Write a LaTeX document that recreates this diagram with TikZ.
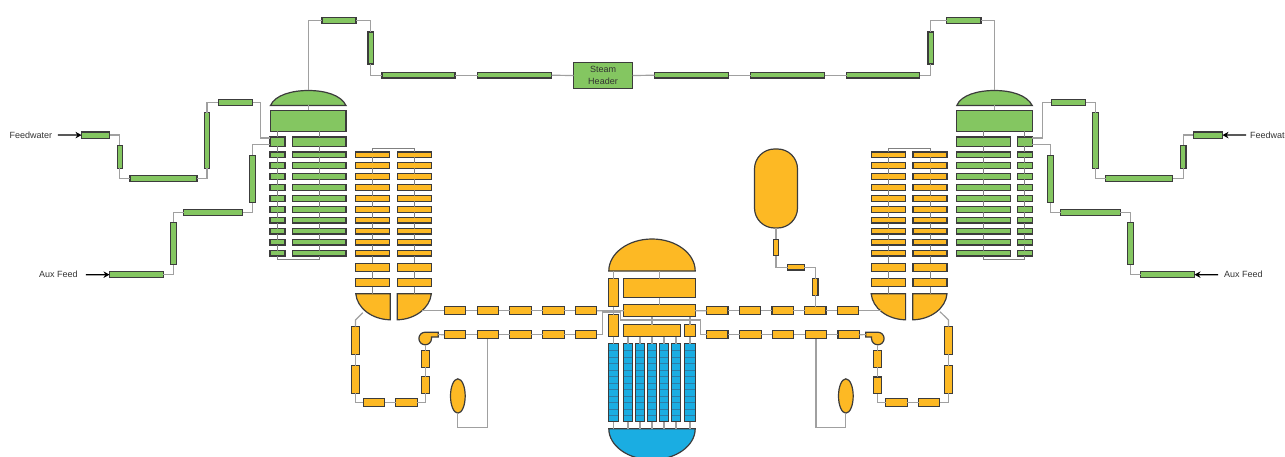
\documentclass[tikz,border=0pt]{standalone}
\usepackage{fontspec}
\setmainfont{Liberation Sans}
\usetikzlibrary{shapes.geometric,arrows.meta}
\definecolor{sggreen}{HTML}{84C661}
\definecolor{rcsorange}{HTML}{FDB924}
\definecolor{coreblue}{HTML}{1AADE2}
\definecolor{edgegrey}{HTML}{3C3C3C}
\definecolor{pipegrey}{HTML}{A0A0A0}
\definecolor{tubegrey}{HTML}{808080}
\definecolor{gridblue}{HTML}{2B7EA8}
\tikzset{
  sz/.style 2 args={minimum width=#1,minimum height=#2},
  part/.style={draw=edgegrey,line width=1.2pt,inner sep=0pt,outer sep=0pt},
  gbox/.style={part,fill=sggreen},
  obox/.style={part,fill=rcsorange},
  rowa/.style={gbox,sz={15}{5.4}},
  rowb/.style={gbox,sz={53.5}{5.4}},
  rowo/.style={obox,sz={34}{5.4}},
  rowt/.style={obox,sz={34}{8}},
  leg/.style={obox,sz={21.4}{8.3}},
  fuel/.style={part,fill=coreblue,path picture={
    \foreach \k in {1,...,11}
      \draw[gridblue,line width=.6pt] ([yshift=-\k*6.5pt]path picture bounding box.north west) -- ([yshift=-\k*6.5pt]path picture bounding box.north east);
  }},
  pipe/.style={draw=pipegrey,line width=1.2pt},
  tube/.style={draw=tubegrey,line width=.8pt},
  flow/.style={black,line width=1.3pt,-{Stealth[length=6pt,width=6.5pt]}},
  lab/.style={font=\fontsize{9}{11}\selectfont,inner sep=0pt,anchor=west,text=black!80}
}
\begin{document}
\begin{tikzpicture}[x=1pt,y=1pt]
\useasboundingbox (0,0) rectangle (1285,-457);
% steam line
\node[gbox,sz={34}{5.7}] (sl1) at (339,-20.75) {};
\node[gbox,sz={5.7}{32}] (sl2) at (370.75,-48) {};
\node[gbox,sz={73}{5.5}] (sl3) at (418.5,-75.25) {};
\node[gbox,sz={74}{5.5}] (sl4) at (514.5,-75.25) {};
\node[gbox,sz={59}{26},font=\fontsize{9}{12}\selectfont,align=center,text=black!80] (hdr) at (603,-75.5) {Steam\\Header};
\node[gbox,sz={74}{5.5}] (sr1) at (691.5,-75.25) {};
\node[gbox,sz={74}{5.5}] (sr2) at (787.5,-75.25) {};
\node[gbox,sz={73}{5.5}] (sr3) at (883,-75.25) {};
\node[gbox,sz={5.7}{32}] (sr4) at (930.75,-48) {};
\node[gbox,sz={34.5}{5.7}] (sr5) at (963.75,-20.75) {};
% left steam generator
\draw[part,fill=sggreen] (270.5,-105.5) .. controls (275,-95) and (292,-90.5) .. (308.3,-90.5) .. controls (325,-90.5) and (341,-95) .. (346,-105.5) -- cycle;
\coordinate (ldomet) at (308.3,-90.5);
\coordinate (ldomeb) at (308.3,-105.5);
\node[gbox,sz={75.5}{21}] (lshell) at (308.3,-121) {};
\node[gbox,sz={15}{9.5}] (lsa0) at (277.5,-141.75) {};
\node[gbox,sz={53.5}{9.5}] (lsb0) at (319.2,-141.75) {};
\node[rowa] (lsa1) at (277.5,-154.7) {};
\node[rowa] (lsa2) at (277.5,-165.6) {};
\node[rowa] (lsa3) at (277.5,-176.6) {};
\node[rowa] (lsa4) at (277.5,-187.6) {};
\node[rowa] (lsa5) at (277.5,-198.5) {};
\node[rowa] (lsa6) at (277.5,-209.5) {};
\node[rowa] (lsa7) at (277.5,-220.4) {};
\node[rowa] (lsa8) at (277.5,-231.4) {};
\node[rowa] (lsa9) at (277.5,-242.3) {};
\node[rowa] (lsa10) at (277.5,-253.3) {};
\node[rowb] (lsb1) at (319.2,-154.7) {};
\node[rowb] (lsb2) at (319.2,-165.6) {};
\node[rowb] (lsb3) at (319.2,-176.6) {};
\node[rowb] (lsb4) at (319.2,-187.6) {};
\node[rowb] (lsb5) at (319.2,-198.5) {};
\node[rowb] (lsb6) at (319.2,-209.5) {};
\node[rowb] (lsb7) at (319.2,-220.4) {};
\node[rowb] (lsb8) at (319.2,-231.4) {};
\node[rowb] (lsb9) at (319.2,-242.3) {};
\node[rowb] (lsb10) at (319.2,-253.3) {};
% right steam generator
\draw[part,fill=sggreen] (956.8,-105.5) .. controls (961,-95) and (978,-90.5) .. (994.4,-90.5) .. controls (1011,-90.5) and (1027,-95) .. (1032.2,-105.5) -- cycle;
\coordinate (rdomet) at (994.4,-90.5);
\coordinate (rdomeb) at (994.4,-105.5);
\node[gbox,sz={75.5}{21}] (rshell) at (994.4,-121) {};
\node[gbox,sz={53.5}{9.5}] (rsb0) at (983.5,-141.75) {};
\node[gbox,sz={15}{9.5}] (rsa0) at (1024.8,-141.75) {};
\node[rowb] (rsb1) at (983.5,-154.7) {};
\node[rowb] (rsb2) at (983.5,-165.6) {};
\node[rowb] (rsb3) at (983.5,-176.6) {};
\node[rowb] (rsb4) at (983.5,-187.6) {};
\node[rowb] (rsb5) at (983.5,-198.5) {};
\node[rowb] (rsb6) at (983.5,-209.5) {};
\node[rowb] (rsb7) at (983.5,-220.4) {};
\node[rowb] (rsb8) at (983.5,-231.4) {};
\node[rowb] (rsb9) at (983.5,-242.3) {};
\node[rowb] (rsb10) at (983.5,-253.3) {};
\node[rowa] (rsa1) at (1024.8,-154.7) {};
\node[rowa] (rsa2) at (1024.8,-165.6) {};
\node[rowa] (rsa3) at (1024.8,-176.6) {};
\node[rowa] (rsa4) at (1024.8,-187.6) {};
\node[rowa] (rsa5) at (1024.8,-198.5) {};
\node[rowa] (rsa6) at (1024.8,-209.5) {};
\node[rowa] (rsa7) at (1024.8,-220.4) {};
\node[rowa] (rsa8) at (1024.8,-231.4) {};
\node[rowa] (rsa9) at (1024.8,-242.3) {};
\node[rowa] (rsa10) at (1024.8,-253.3) {};
% left tube bank
\node[rowo] (lha1) at (372.8,-154.7) {};
\node[rowo] (lha2) at (372.8,-165.6) {};
\node[rowo] (lha3) at (372.8,-176.6) {};
\node[rowo] (lha4) at (372.8,-187.6) {};
\node[rowo] (lha5) at (372.8,-198.5) {};
\node[rowo] (lha6) at (372.8,-209.5) {};
\node[rowo] (lha7) at (372.8,-220.4) {};
\node[rowo] (lha8) at (372.8,-231.4) {};
\node[rowo] (lha9) at (372.8,-242.3) {};
\node[rowo] (lha10) at (372.8,-253.3) {};
\node[rowt] (lha11) at (372.8,-267.2) {};
\node[rowt] (lha12) at (372.8,-282.5) {};
\node[rowo] (lhb1) at (414.3,-154.7) {};
\node[rowo] (lhb2) at (414.3,-165.6) {};
\node[rowo] (lhb3) at (414.3,-176.6) {};
\node[rowo] (lhb4) at (414.3,-187.6) {};
\node[rowo] (lhb5) at (414.3,-198.5) {};
\node[rowo] (lhb6) at (414.3,-209.5) {};
\node[rowo] (lhb7) at (414.3,-220.4) {};
\node[rowo] (lhb8) at (414.3,-231.4) {};
\node[rowo] (lhb9) at (414.3,-242.3) {};
\node[rowo] (lhb10) at (414.3,-253.3) {};
\node[rowt] (lhb11) at (414.3,-267.2) {};
\node[rowt] (lhb12) at (414.3,-282.5) {};
\draw[part,fill=rcsorange] (355.8,-293.8) -- (390.3,-293.8) -- (390.3,-319.8) .. controls (372,-319.5) and (357,-308) .. (355.8,-293.8) -- cycle;
\draw[part,fill=rcsorange] (397.2,-293.8) -- (431.3,-293.8) .. controls (430,-308) and (415,-319.5) .. (397.2,-319.8) -- cycle;
\coordinate (lpla) at (372.8,-293.8);
\coordinate (lplb) at (414.3,-293.8);
\coordinate (lplc) at (362.7,-312.7);
\coordinate (lpld) at (355.5,-320);
\coordinate (lple) at (422,-310.7);
% right tube bank
\node[rowo] (rha1) at (888.3,-154.7) {};
\node[rowo] (rha2) at (888.3,-165.6) {};
\node[rowo] (rha3) at (888.3,-176.6) {};
\node[rowo] (rha4) at (888.3,-187.6) {};
\node[rowo] (rha5) at (888.3,-198.5) {};
\node[rowo] (rha6) at (888.3,-209.5) {};
\node[rowo] (rha7) at (888.3,-220.4) {};
\node[rowo] (rha8) at (888.3,-231.4) {};
\node[rowo] (rha9) at (888.3,-242.3) {};
\node[rowo] (rha10) at (888.3,-253.3) {};
\node[rowt] (rha11) at (888.3,-267.2) {};
\node[rowt] (rha12) at (888.3,-282.5) {};
\node[rowo] (rhb1) at (930,-154.7) {};
\node[rowo] (rhb2) at (930,-165.6) {};
\node[rowo] (rhb3) at (930,-176.6) {};
\node[rowo] (rhb4) at (930,-187.6) {};
\node[rowo] (rhb5) at (930,-198.5) {};
\node[rowo] (rhb6) at (930,-209.5) {};
\node[rowo] (rhb7) at (930,-220.4) {};
\node[rowo] (rhb8) at (930,-231.4) {};
\node[rowo] (rhb9) at (930,-242.3) {};
\node[rowo] (rhb10) at (930,-253.3) {};
\node[rowt] (rhb11) at (930,-267.2) {};
\node[rowt] (rhb12) at (930,-282.5) {};
\draw[part,fill=rcsorange] (871.2,-293.8) -- (905.6,-293.8) -- (905.6,-319.8) .. controls (887,-319.5) and (872.5,-308) .. (871.2,-293.8) -- cycle;
\draw[part,fill=rcsorange] (912.8,-293.8) -- (947,-293.8) .. controls (945.8,-308) and (931,-319.5) .. (912.8,-319.8) -- cycle;
\coordinate (rpla) at (888.3,-293.8);
\coordinate (rplb) at (930,-293.8);
\coordinate (rplc) at (940,-311.7);
\coordinate (rpld) at (948.5,-320);
\coordinate (rple) at (880.7,-310.7);
% feed lines
\node[lab] (fwl) at (9.5,-135) {Feedwater};
\node[gbox,sz={28}{6.2}] (lf1) at (95.5,-135.1) {};
\node[gbox,sz={5.5}{23}] (lf2) at (119.85,-157) {};
\node[gbox,sz={67}{5.7}] (lf3) at (163.4,-178.65) {};
\node[gbox,sz={5.7}{55.7}] (lf4) at (207,-140.65) {};
\node[gbox,sz={34.3}{5.7}] (lf5) at (235.35,-102.35) {};
\node[lab] (axl) at (39,-274.7) {Aux Feed};
\node[gbox,sz={53.7}{5.7}] (la1) at (136.35,-274.65) {};
\node[gbox,sz={5.7}{42}] (la2) at (173.35,-243.5) {};
\node[gbox,sz={59.3}{5.7}] (la3) at (213.15,-212.5) {};
\node[gbox,sz={5.7}{47.3}] (la4) at (252.65,-179.15) {};
\node[lab] (fwr) at (1250,-135) {Feedwater};
\node[gbox,sz={29.3}{6.2}] (rf1) at (1207.85,-135.1) {};
\node[gbox,sz={5.7}{23}] (rf2) at (1183.2,-157) {};
\node[gbox,sz={67}{5.7}] (rf3) at (1139.3,-178.65) {};
\node[gbox,sz={6}{55.7}] (rf4) at (1095.8,-140.65) {};
\node[gbox,sz={34.6}{5.7}] (rf5) at (1068.5,-102.35) {};
\node[lab] (axr) at (1224,-274.7) {Aux Feed};
\node[gbox,sz={54}{5.7}] (ra1) at (1167.5,-274.65) {};
\node[gbox,sz={5.7}{42}] (ra2) at (1130.35,-243.5) {};
\node[gbox,sz={59.4}{5.7}] (ra3) at (1090.5,-212.5) {};
\node[gbox,sz={5.7}{47.3}] (ra4) at (1050.65,-179.15) {};
% reactor
\draw[part,fill=rcsorange] (608.8,-271) arc[start angle=180,end angle=0,x radius=43.2,y radius=32] -- cycle;
\coordinate (domea) at (613.65,-271);
\coordinate (domeb) at (659.5,-271);
\node[obox,sz={10.3}{28.3}] (dcu) at (613.65,-292.65) {};
\node[obox,sz={10.3}{21.7}] (dcl) at (613.65,-325.65) {};
\node[obox,sz={71.4}{19}] (rup) at (659.5,-288) {};
\node[obox,sz={71.4}{12.3}] (rmid) at (659.5,-310.65) {};
\node[obox,sz={56.4}{12}] (rlo) at (652,-330.5) {};
\node[obox,sz={10.4}{12}] (rsm) at (690,-330.5) {};
\node[fuel,sz={10.3}{78}] (fu1) at (613.65,-382.8) {};
\node[fuel,sz={8.4}{78}] (fu2) at (628,-382.8) {};
\node[fuel,sz={8.4}{78}] (fu3) at (640,-382.8) {};
\node[fuel,sz={8.4}{78}] (fu4) at (652,-382.8) {};
\node[fuel,sz={8.4}{78}] (fu5) at (664,-382.8) {};
\node[fuel,sz={8.4}{78}] (fu6) at (676,-382.8) {};
\node[fuel,sz={10.4}{78}] (fu7) at (690,-382.8) {};
\draw[part,fill=coreblue] (608.8,-428.7) -- (695.2,-428.7) arc[start angle=0,end angle=-180,x radius=43.2,y radius=31] -- cycle;
\coordinate (pln) at (652,-428.7);
% pressurizer
\node[obox,rounded corners=20pt,sz={43}{79}] (prz) at (776,-188.5) {};
\node[obox,sz={5.5}{16.7}] (pz1) at (776,-247.5) {};
\node[obox,sz={16.7}{5.5}] (pz2) at (795.85,-267.15) {};
\node[obox,sz={5.5}{16.7}] (pz3) at (815.3,-286.85) {};
% left loop
\node[leg] (hl1) at (454.85,-310.7) {};
\node[leg] (hl2) at (487.85,-310.7) {};
\node[leg] (hl3) at (520.5,-310.7) {};
\node[leg] (hl4) at (553.5,-310.7) {};
\node[leg] (hl5) at (586.15,-310.7) {};
\node[leg] (cl1) at (454.85,-334.7) {};
\node[leg] (cl2) at (487.85,-334.7) {};
\node[leg] (cl3) at (520.5,-334.7) {};
\node[leg] (cl4) at (553.5,-334.7) {};
\node[leg] (cl5) at (586.15,-334.7) {};
\node[obox,sz={8}{27.7}] (lc1) at (355.5,-340.35) {};
\node[obox,sz={8}{27.4}] (lc2) at (355.5,-379.5) {};
\node[obox,sz={21.3}{8}] (lc3) at (373.85,-402.2) {};
\node[obox,sz={21.3}{8}] (lc4) at (406.5,-402.2) {};
\node[obox,sz={8}{16.7}] (lc5) at (425.2,-385) {};
\node[obox,sz={8}{16.7}] (lc6) at (425.2,-358.85) {};
\draw[part,fill=rcsorange] (438.2,-332.2) -- (425.2,-332.2) arc[start angle=90,end angle=360,radius=6.3] -- (431.5,-337) -- (438.2,-337) -- cycle;
\coordinate (lpmpa) at (425.2,-344.8);
\coordinate (lpmpb) at (438.2,-334.6);
\node[obox,ellipse,sz={14.7}{34.3}] (acl) at (457.85,-396) {};
% right loop
\node[leg] (hr1) at (717.3,-310.7) {};
\node[leg] (hr2) at (750,-310.7) {};
\node[leg] (hr3) at (782.7,-310.7) {};
\node[leg] (hr4) at (815.3,-310.7) {};
\node[leg] (hr5) at (848,-310.7) {};
\node[leg] (cr1) at (717.3,-334.7) {};
\node[leg] (cr2) at (750.5,-334.7) {};
\node[leg] (cr3) at (783,-334.7) {};
\node[leg] (cr4) at (816,-334.7) {};
\node[leg] (cr5) at (848.7,-334.7) {};
\node[obox,sz={8}{27.7}] (rc1) at (948.5,-340.35) {};
\node[obox,sz={8}{27.7}] (rc2) at (948.5,-379.6) {};
\node[obox,sz={21.3}{8}] (rc3) at (929.2,-402.2) {};
\node[obox,sz={21.3}{8}] (rc4) at (896.5,-402.2) {};
\node[obox,sz={8}{16.7}] (rc5) at (877.8,-385.3) {};
\node[obox,sz={8}{16.7}] (rc6) at (877.8,-358.85) {};
\draw[part,fill=rcsorange] (865.8,-332.2) -- (877.8,-332.2) arc[start angle=90,end angle=-180,radius=6.3] -- (871.5,-337) -- (865.8,-337) -- cycle;
\coordinate (rpmpa) at (877.8,-344.8);
\coordinate (rpmpb) at (865.8,-334.6);
\node[obox,ellipse,sz={14.7}{34.3}] (acr) at (845.85,-396) {};
% junctions at the vessel
\coordinate (kna) at (602.3,-312);
\coordinate (knb) at (620.7,-312);
\coordinate (knc) at (700.7,-320);
% steam pipes
\draw[pipe] (ldomet) |- (sl1.west);
\draw[pipe] (sl1.east) -| (sl2.north);
\draw[pipe] (sl2.south) |- (sl3.west);
\draw[pipe] (sl3.east) -- (sl4.west);
\draw[pipe] (sl4.east) -- (hdr.west);
\draw[pipe] (hdr.east) -- (sr1.west);
\draw[pipe] (sr1.east) -- (sr2.west);
\draw[pipe] (sr2.east) -- (sr3.west);
\draw[pipe] (sr3.east) -| (sr4.south);
\draw[pipe] (sr4.north) |- (sr5.west);
\draw[pipe] (sr5.east) -| (rdomet);
% feed pipes
\draw[flow,shorten <=5.5pt] (fwl.east) -- (lf1.west);
\draw[pipe] (lf1.east) -| (lf2.north);
\draw[pipe] (lf2.south) |- (lf3.west);
\draw[pipe] (lf3.east) -| (lf4.south);
\draw[pipe] (lf4.north) |- (lf5.west);
\draw[pipe] (lf5.east) -- ++(8.3,0) |- ([yshift=3.7pt]lsa0.west);
\draw[flow,shorten <=8pt] (axl.east) -- (la1.west);
\draw[pipe] (la1.east) -| (la2.south);
\draw[pipe] (la2.north) |- (la3.west);
\draw[pipe] (la3.east) -| (la4.south);
\draw[pipe] ([yshift=-2.9pt]lsa0.west) -| (la4.north);
\draw[flow,shorten <=4pt] (fwr.west) -- (rf1.east);
\draw[pipe] (rf1.west) -| (rf2.north);
\draw[pipe] (rf2.south) |- (rf3.east);
\draw[pipe] (rf3.west) -| (rf4.south);
\draw[pipe] (rf4.north) |- (rf5.east);
\draw[pipe] (rf5.west) -- ++(-8.7,0) |- ([yshift=3.7pt]rsa0.east);
\draw[flow,shorten <=6pt] (axr.west) -- (ra1.east);
\draw[pipe] (ra1.west) -| (ra2.south);
\draw[pipe] (ra2.north) |- (ra3.east);
\draw[pipe] (ra3.west) -| (ra4.south);
\draw[pipe] ([yshift=-2.9pt]rsa0.east) -| (ra4.north);
% inside the left steam generator
\draw[pipe] (ldomeb) -- (ldomeb |- lshell.north);
\draw[tube] (lsa0.north) -- (lsa0.north |- lshell.south);
\draw[tube] (lsb0.north) -- (lsb0.north |- lshell.south);
\draw[tube] (lsa0.south) -- (lsa1.north) (lsa1.south) -- (lsa2.north) (lsa2.south) -- (lsa3.north) (lsa3.south) -- (lsa4.north) (lsa4.south) -- (lsa5.north);
\draw[tube] (lsa5.south) -- (lsa6.north) (lsa6.south) -- (lsa7.north) (lsa7.south) -- (lsa8.north) (lsa8.south) -- (lsa9.north) (lsa9.south) -- (lsa10.north);
\draw[tube] (lsb0.south) -- (lsb1.north) (lsb1.south) -- (lsb2.north) (lsb2.south) -- (lsb3.north) (lsb3.south) -- (lsb4.north) (lsb4.south) -- (lsb5.north);
\draw[tube] (lsb5.south) -- (lsb6.north) (lsb6.south) -- (lsb7.north) (lsb7.south) -- (lsb8.north) (lsb8.south) -- (lsb9.north) (lsb9.south) -- (lsb10.north);
\draw[tube] (lsa10.south) -- ++(0,-3) -| (lsb10.south);
% inside the right steam generator
\draw[pipe] (rdomeb) -- (rdomeb |- rshell.north);
\draw[tube] (rsa0.north) -- (rsa0.north |- rshell.south);
\draw[tube] (rsb0.north) -- (rsb0.north |- rshell.south);
\draw[tube] (rsa0.south) -- (rsa1.north) (rsa1.south) -- (rsa2.north) (rsa2.south) -- (rsa3.north) (rsa3.south) -- (rsa4.north) (rsa4.south) -- (rsa5.north);
\draw[tube] (rsa5.south) -- (rsa6.north) (rsa6.south) -- (rsa7.north) (rsa7.south) -- (rsa8.north) (rsa8.south) -- (rsa9.north) (rsa9.south) -- (rsa10.north);
\draw[tube] (rsb0.south) -- (rsb1.north) (rsb1.south) -- (rsb2.north) (rsb2.south) -- (rsb3.north) (rsb3.south) -- (rsb4.north) (rsb4.south) -- (rsb5.north);
\draw[tube] (rsb5.south) -- (rsb6.north) (rsb6.south) -- (rsb7.north) (rsb7.south) -- (rsb8.north) (rsb8.south) -- (rsb9.north) (rsb9.south) -- (rsb10.north);
\draw[tube] (rsb10.south) -- ++(0,-3) -| (rsa10.south);
% tube banks
\draw[tube] (lha1.north) -- ++(0,3.3) -| (lhb1.north);
\draw[tube] (lha1.south) -- (lha2.north) (lha2.south) -- (lha3.north) (lha3.south) -- (lha4.north) (lha4.south) -- (lha5.north) (lha5.south) -- (lha6.north) (lha6.south) -- (lha7.north);
\draw[tube] (lha7.south) -- (lha8.north) (lha8.south) -- (lha9.north) (lha9.south) -- (lha10.north) (lha10.south) -- (lha11.north) (lha11.south) -- (lha12.north) (lha12.south) -- (lpla);
\draw[tube] (lhb1.south) -- (lhb2.north) (lhb2.south) -- (lhb3.north) (lhb3.south) -- (lhb4.north) (lhb4.south) -- (lhb5.north) (lhb5.south) -- (lhb6.north) (lhb6.south) -- (lhb7.north);
\draw[tube] (lhb7.south) -- (lhb8.north) (lhb8.south) -- (lhb9.north) (lhb9.south) -- (lhb10.north) (lhb10.south) -- (lhb11.north) (lhb11.south) -- (lhb12.north) (lhb12.south) -- (lplb);
\draw[tube] (rha1.north) -- ++(0,3.3) -| (rhb1.north);
\draw[tube] (rha1.south) -- (rha2.north) (rha2.south) -- (rha3.north) (rha3.south) -- (rha4.north) (rha4.south) -- (rha5.north) (rha5.south) -- (rha6.north) (rha6.south) -- (rha7.north);
\draw[tube] (rha7.south) -- (rha8.north) (rha8.south) -- (rha9.north) (rha9.south) -- (rha10.north) (rha10.south) -- (rha11.north) (rha11.south) -- (rha12.north) (rha12.south) -- (rpla);
\draw[tube] (rhb1.south) -- (rhb2.north) (rhb2.south) -- (rhb3.north) (rhb3.south) -- (rhb4.north) (rhb4.south) -- (rhb5.north) (rhb5.south) -- (rhb6.north) (rhb6.south) -- (rhb7.north);
\draw[tube] (rhb7.south) -- (rhb8.north) (rhb8.south) -- (rhb9.north) (rhb9.south) -- (rhb10.north) (rhb10.south) -- (rhb11.north) (rhb11.south) -- (rhb12.north) (rhb12.south) -- (rplb);
% left loop pipes
\draw[pipe] (lple) -- (hl1.west);
\draw[pipe] (hl1.east) -- (hl2.west);
\draw[pipe] (hl2.east) -- (hl3.west);
\draw[pipe] (hl3.east) -- (hl4.west);
\draw[pipe] (hl4.east) -- (hl5.west);
\draw[pipe] (hl5.east) -- (rmid.west);
\draw[pipe] (lplc) -- (lpld) -- (lc1.north);
\draw[pipe] (lc1.south) -- (lc2.north);
\draw[pipe] (lc2.south) |- (lc3.west);
\draw[pipe] (lc3.east) -- (lc4.west);
\draw[pipe] (lc4.east) -| (lc5.south);
\draw[pipe] (lc5.north) -- (lc6.south);
\draw[pipe] (lc6.north) -- (lpmpa);
\draw[pipe] (lpmpb) -- (cl1.west);
\draw[pipe] (cl1.east) -- (cl2.west);
\draw[pipe] (cl2.east) -- (cl3.west);
\draw[pipe] (cl3.east) -- (cl4.west);
\draw[pipe] (cl4.east) -- (cl5.west);
\draw[pipe] (cl5.east) -| (kna) -- (knb) |- (knc) |- (cr1.west);
\draw[pipe] (acl.south) -- ++(0,-14.6) -| (cl2.south);
% right loop pipes
\draw[pipe] (rmid.east) -- (hr1.west);
\draw[pipe] (hr1.east) -- (hr2.west);
\draw[pipe] (hr2.east) -- (hr3.west);
\draw[pipe] (hr3.east) -- (hr4.west);
\draw[pipe] (hr4.east) -- (hr5.west);
\draw[pipe] (hr5.east) -- (rple);
\draw[pipe] (rplc) -- (rpld) -- (rc1.north);
\draw[pipe] (rc1.south) -- (rc2.north);
\draw[pipe] (rc2.south) |- (rc3.east);
\draw[pipe] (rc3.west) -- (rc4.east);
\draw[pipe] (rc4.west) -| (rc5.south);
\draw[pipe] (rc5.north) -- (rc6.south);
\draw[pipe] (rc6.north) -- (rpmpa);
\draw[pipe] (rpmpb) -- (cr5.east);
\draw[pipe] (cr5.west) -- (cr4.east);
\draw[pipe] (cr4.west) -- (cr3.east);
\draw[pipe] (cr3.west) -- (cr2.east);
\draw[pipe] (cr2.west) -- (cr1.east);
\draw[pipe] (acr.south) -- ++(0,-14.6) -| (cr4.south);
% pressurizer pipes
\draw[pipe] (prz.south) -- (pz1.north);
\draw[pipe] (pz1.south) |- (pz2.west);
\draw[pipe] (pz2.east) -| (pz3.north);
\draw[pipe] (pz3.south) -- (pz3.south |- hr4.north);
% vessel internals
\draw[pipe] (domea) -- (dcu.north);
\draw[pipe] (domeb) -- (rup.north);
\draw[pipe] (dcu.south) -- (dcl.north);
\draw[pipe] (rup.south) -- (rmid.north);
\draw[pipe] (rlo.north) -- (rlo.north |- rmid.south);
\draw[pipe] (rsm.north) -- (rsm.north |- rmid.south);
\draw[pipe] (dcl.south) -- (fu1.north);
\draw[pipe] (fu2.north) -- (fu2.north |- rlo.south);
\draw[pipe] (fu3.north) -- (fu3.north |- rlo.south);
\draw[pipe] (fu4.north) -- (fu4.north |- rlo.south);
\draw[pipe] (fu5.north) -- (fu5.north |- rlo.south);
\draw[pipe] (fu6.north) -- (fu6.north |- rlo.south);
\draw[pipe] (fu7.north) -- (rsm.south);
\draw[pipe] (fu1.south) -- (fu1.south |- pln);
\draw[pipe] (fu2.south) -- (fu2.south |- pln);
\draw[pipe] (fu3.south) -- (fu3.south |- pln);
\draw[pipe] (fu4.south) -- (pln);
\draw[pipe] (fu5.south) -- (fu5.south |- pln);
\draw[pipe] (fu6.south) -- (fu6.south |- pln);
\draw[pipe] (fu7.south) -- (fu7.south |- pln);
\end{tikzpicture}
\end{document}
